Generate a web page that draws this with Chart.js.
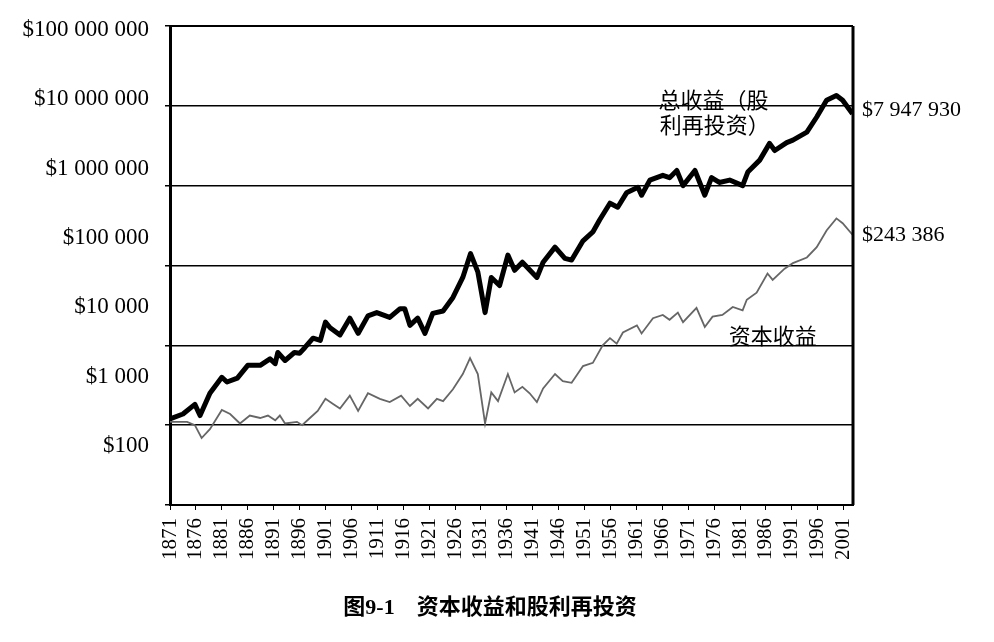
<!DOCTYPE html>
<html>
<head>
<meta charset="utf-8">
<script src="https://cdn.jsdelivr.net/npm/chart.js@4.4.1/dist/chart.umd.min.js"></script>
<style>
    html, body { margin: 0; padding: 0; background: #fff; }
    #wrap { width: 994px; height: 642px; position: relative; }
</style>
</head>
<body>
<div id="wrap"><canvas id="returnsChart"></canvas></div>
<script>
const yearTicks = [1871, 1876, 1881, 1886, 1891, 1896, 1901, 1906, 1911, 1916, 1921, 1926, 1931,
    1936, 1941, 1946, 1951, 1956, 1961, 1966, 1971, 1976, 1981, 1986, 1991, 1996, 2001];
const valueTicks = [100, 1000, 10000, 100000, 1000000, 10000000, 100000000];

// total return, dividends reinvested
const totalYears = [1871, 1873.5, 1875.8, 1876.8, 1878.7, 1881, 1882, 1884, 1886, 1888.4, 1890.3, 1891.3,
    1891.8, 1893.2, 1895, 1896, 1897, 1898.6, 1900, 1901, 1901.9, 1903.8, 1905.7, 1907.3, 1909.2, 1910.9,
    1913.4, 1915.4, 1916.3, 1917.3, 1918.8, 1920.2, 1921.7, 1923.7, 1925.6, 1927.5, 1929, 1930.4, 1931.8,
    1933, 1934.6, 1936.2, 1937.5, 1939, 1941.8, 1943, 1945.3, 1947.2, 1948.5, 1950.7, 1952.6, 1953.9,
    1955.9, 1957.4, 1959.1, 1961.3, 1962, 1963.6, 1966.1, 1967.4, 1968.8, 1970, 1972.3, 1974.2, 1975.5,
    1977, 1979, 1981.5, 1982.5, 1984.8, 1986.7, 1987.7, 1990, 1991.2, 1993.9, 1995.8, 1997.7, 1999.6,
    2000.8, 2002.7];
const totalValues = [1200, 1380, 1820, 1320, 2510, 3980, 3470, 3890, 5620, 5620, 6760, 5890,
    8130, 6460, 8130, 7940, 9330, 12300, 11500, 19500, 16600, 13500, 21900, 14100, 23400, 25700,
    22400, 28800, 28800, 17800, 21900, 14100, 25100, 26900, 39800, 70800, 141000, 83200, 25700,
    70800, 56200, 135000, 87100, 110000, 70800, 110000, 170000, 123000, 117000, 204000, 263000, 372000,
    603000, 537000, 813000, 955000, 759000, 1175000, 1349000, 1259000, 1549000, 1000000, 1549000, 759000, 1259000,
    1096000, 1175000, 1000000, 1479000, 2089000, 3388000, 2754000, 3467000, 3715000, 4677000, 7244000, 11750000, 13490000,
    11750000, 7947930];

// capital gains only
const capitalYears = [1871, 1874.3, 1875.8, 1877.1, 1878.7, 1881, 1882.6, 1884.5, 1886.4, 1888.4, 1889.9,
    1891.3, 1892.2, 1893.2, 1895.5, 1896.5, 1898, 1899.5, 1901, 1902.4, 1903.8, 1905.7, 1907.3, 1909.2,
    1911.5, 1913.4, 1915.6, 1917.3, 1918.8, 1920.8, 1922.5, 1923.7, 1925.6, 1927.5, 1928.9, 1930.4, 1931.8,
    1933, 1934.3, 1936.2, 1937.5, 1939, 1940.4, 1941.8, 1943, 1945.3, 1946.8, 1948.5, 1950.7, 1952.6,
    1954.5, 1955.9, 1957.2, 1958.4, 1961.1, 1962, 1964.2, 1966.1, 1967.4, 1969, 1970, 1972.6, 1974.2,
    1975.7, 1977.6, 1979.6, 1981.5, 1982.3, 1984.2, 1986.3, 1987.3, 1989.6, 1991.2, 1993.9, 1995.8,
    1997.7, 1999.6, 2000.8, 2002.7];
const capitalValues = [1100, 1100, 1000, 690, 890, 1550, 1380, 1050, 1320, 1230, 1320,
    1150, 1320, 1050, 1100, 1000, 1230, 1510, 2140, 1860, 1620, 2340, 1510, 2510,
    2140, 1950, 2340, 1740, 2140, 1620, 2140, 2000, 2820, 4370, 6920, 4370, 1050,
    2570, 2000, 4370, 2570, 3020, 2510, 1950, 2880, 4370, 3550, 3390, 5500, 6030,
    10000, 12300, 10500, 14500, 17800, 14100, 21900, 24000, 20900, 25700, 19500, 29500, 17000,
    22900, 24000, 30200, 27500, 37200, 45700, 79400, 66100, 91200, 107000, 126000, 170000,
    275000, 389000, 339000, 243386];

const seriesNames = ['总收益（股利再投资）', '资本收益'];
const caption = '图9-1　资本收益和股利再投资';

const serif = '"Liberation Serif", "Noto Sans CJK SC", serif';

function money(v) {
    return '$' + Math.round(v).toString().replace(/\B(?=(\d{3})+(?!\d))/g, ' ');
}

function zip(xs, ys) {
    return xs.map((x, i) => ({ x: x, y: ys[i] }));
}

const textPlugin = {
    id: 'textPlugin',
    afterDraw(chart) {
        const { ctx, chartArea, scales } = chart;
        const xs = scales.x;
        const ys = scales.y;
        ctx.save();

        // frame top and right
        ctx.strokeStyle = '#000';
        ctx.lineWidth = 2;
        ctx.beginPath();
        ctx.moveTo(chartArea.left, chartArea.top);
        ctx.lineTo(chartArea.right, chartArea.top);
        ctx.stroke();
        ctx.lineWidth = 3;
        ctx.beginPath();
        ctx.moveTo(chartArea.right, chartArea.top);
        ctx.lineTo(chartArea.right, chartArea.bottom);
        ctx.stroke();

        ctx.fillStyle = '#000';
        ctx.textBaseline = 'middle';

        // end values
        const lastTotal = totalValues[totalValues.length - 1];
        const lastCap = capitalValues[capitalValues.length - 1];
        ctx.font = '22px ' + serif;
        ctx.textAlign = 'left';
        ctx.fillText(money(lastTotal), chartArea.right + 9, ys.getPixelForValue(lastTotal) - 4);
        ctx.fillText(money(lastCap), chartArea.right + 9, ys.getPixelForValue(lastCap) + 1);

        // series names
        ctx.font = '22px "Noto Sans CJK SC", sans-serif';
        ctx.textAlign = 'center';
        ctx.fillText(seriesNames[0].slice(0, 5), xs.getPixelForValue(1975.9), ys.getPixelForValue(1.18e7));
        ctx.fillText(seriesNames[0].slice(5), xs.getPixelForValue(1976.1), ys.getPixelForValue(5.75e6));
        ctx.fillText(seriesNames[1], xs.getPixelForValue(1987.3), ys.getPixelForValue(13400));

        // caption
        ctx.font = 'bold 22px ' + serif;
        ctx.fillText(caption, 490, 608);
        ctx.restore();
    }
};

new Chart(document.getElementById('returnsChart'), {
    type: 'line',
    data: {
        datasets: [
            {
                label: seriesNames[1],
                data: zip(capitalYears, capitalValues),
                borderColor: '#666',
                borderWidth: 1.8,
                pointRadius: 0,
                tension: 0
            },
            {
                label: seriesNames[0],
                data: zip(totalYears, totalValues),
                borderColor: '#000',
                borderWidth: 5,
                borderJoinStyle: 'round',
                pointRadius: 0,
                tension: 0
            }
        ]
    },
    options: {
        responsive: true,
        maintainAspectRatio: false,
        animation: false,
        layout: { padding: { top: 26, right: 141, left: 0, bottom: 0 } },
        plugins: {
            legend: { display: false },
            tooltip: { enabled: false }
        },
        scales: {
            x: {
                type: 'linear',
                min: 1871,
                max: 2002.8,
                afterBuildTicks: scale => { scale.ticks = yearTicks.map(v => ({ value: v })); },
                afterFit: scale => { scale.height = 137; },
                grid: { display: true, drawOnChartArea: false, color: '#000', tickLength: 5, lineWidth: 1 },
                border: { color: '#000', width: 2 },
                ticks: {
                    autoSkip: false,
                    minRotation: 90,
                    maxRotation: 90,
                    padding: 8,
                    color: '#000',
                    font: { family: serif, size: 21 },
                    callback: v => String(v)
                }
            },
            y: {
                type: 'logarithmic',
                position: 'left',
                weight: 0,
                min: 100,
                max: 100000000,
                afterBuildTicks: scale => { scale.ticks = valueTicks.map(v => ({ value: v })); },
                afterFit: scale => { scale.width = 6; },
                grid: { color: '#000', lineWidth: 1.5, tickLength: 5 },
                border: { color: '#000', width: 3 },
                ticks: { display: false }
            },
            yLabels: {
                type: 'linear',
                position: 'left',
                weight: 1,
                min: 1.149,
                max: 8.058,
                afterBuildTicks: scale => { scale.ticks = valueTicks.map(v => ({ value: Math.log10(v) })); },
                afterFit: scale => { scale.width = 164; },
                grid: { display: false },
                border: { display: false },
                ticks: {
                    padding: 7,
                    color: '#000',
                    font: { family: serif, size: 23 },
                    callback: v => money(Math.pow(10, v))
                }
            }
        }
    },
    plugins: [textPlugin]
});
</script>
</body>
</html>
